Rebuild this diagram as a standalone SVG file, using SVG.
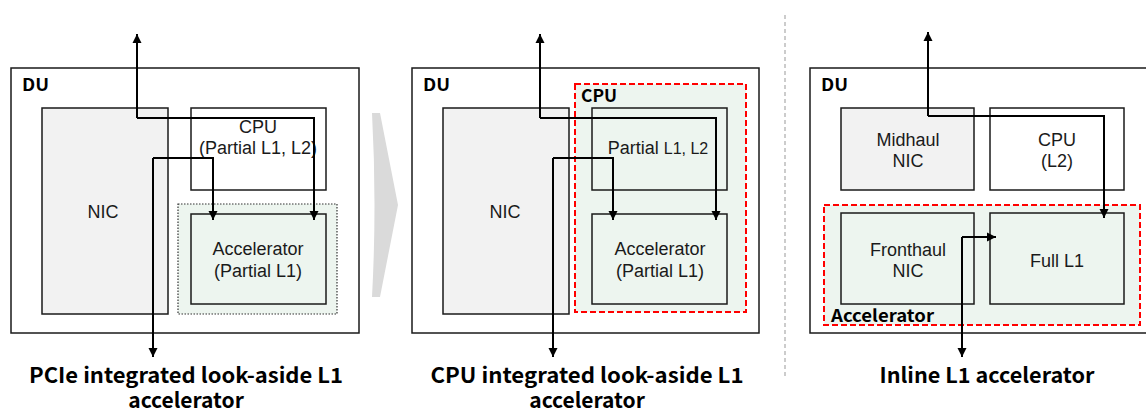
<svg xmlns="http://www.w3.org/2000/svg" width="1146" height="412" viewBox="0 0 1146 412">
<style>
.box{stroke:#1a1a1a;stroke-width:1.5}
.du{fill:#fff}
.nic{fill:#f2f2f2}
.wh{fill:#fff}
.gr{fill:#edf5ef}
.none{fill:none}
.dot{fill:#edf5ef;stroke:#333;stroke-width:1.2;stroke-dasharray:1.5 1.5}
.red{fill:#edf5ef;stroke:#ff0000;stroke-width:2;stroke-dasharray:6 3}
.lbl{font-family:"Liberation Sans",Arial,sans-serif;font-size:18px;fill:#1a1a1a;text-anchor:middle}
.bl{font-family:"Noto Sans CJK KR","Open Sans",sans-serif;font-weight:bold;font-size:17px;fill:#000}
.title{font-family:"Noto Sans CJK KR","Open Sans",sans-serif;font-weight:bold;font-size:21px;fill:#000;text-anchor:middle}
.conn{fill:none;stroke:#000;stroke-width:2;marker-end:url(#ah)}
</style>
<defs>
<marker id="ah" markerWidth="10" markerHeight="10" refX="9" refY="5" orient="auto" markerUnits="userSpaceOnUse">
<path d="M0,0.5 L9,5 L0,9.5 Z" fill="#000"/>
</marker>
</defs>

<!-- chevron -->
<path id="chevron" d="M372,113 L380,113 L398,205 L380,297 L372,297 Q377,205 372,113 Z" fill="#dadada"/>
<!-- separator -->
<line x1="785" y1="15" x2="785" y2="378" stroke="#999" stroke-width="1" stroke-dasharray="4 3"/>

<!-- Panel 1 -->
<g id="p1-du"><rect class="box du" x="11" y="68" width="348" height="265"/><text class="bl" x="22" y="91" textLength="27" lengthAdjust="spacingAndGlyphs">DU</text></g>
<g id="p1-nic"><rect class="box nic" x="42" y="108" width="126" height="206"/><text class="lbl" x="103" y="218">NIC</text></g>
<g id="p1-cpu"><rect class="box wh" x="191" y="108" width="135" height="82"/><text class="lbl" x="258" y="133">CPU</text><text class="lbl" x="258" y="154">(Partial L1, L2)</text></g>
<g id="p1-accwrap"><rect class="dot" x="178" y="204" width="159" height="110"/></g>
<g id="p1-acc"><rect class="box gr" x="191" y="214" width="135" height="90"/><text class="lbl" x="258" y="255">Accelerator</text><text class="lbl" x="258" y="277">(Partial L1)</text></g>
<g id="p1-title"><text class="title" x="186" y="383" textLength="314" lengthAdjust="spacingAndGlyphs">PCIe integrated look-aside L1</text><text class="title" x="186" y="408">accelerator</text></g>

<!-- Panel 2 -->
<g id="p2-du"><rect class="box du" x="412" y="68" width="347" height="265"/><text class="bl" x="423" y="91" textLength="27" lengthAdjust="spacingAndGlyphs">DU</text></g>
<g id="p2-nic"><rect class="box nic" x="443" y="108" width="126" height="206"/><text class="lbl" x="505" y="218">NIC</text></g>
<g id="p2-cpuwrap"><rect class="red" x="575" y="84" width="171" height="228"/><text class="bl" x="581" y="102" textLength="36" lengthAdjust="spacingAndGlyphs">CPU</text></g>
<g id="p2-cpu"><rect class="box none" x="592" y="108" width="135" height="82"/><text class="lbl" x="658" y="154">Partial <tspan font-size="16">L1, L2</tspan></text></g>
<g id="p2-acc"><rect class="box none" x="592" y="214" width="135" height="90"/><text class="lbl" x="660" y="255">Accelerator</text><text class="lbl" x="660" y="277">(Partial L1)</text></g>
<g id="p2-title"><text class="title" x="587" y="383" textLength="313" lengthAdjust="spacingAndGlyphs">CPU integrated look-aside L1</text><text class="title" x="587" y="408">accelerator</text></g>

<!-- Panel 3 -->
<g id="p3-du"><rect class="box du" x="810" y="68" width="345" height="265"/><text class="bl" x="821" y="91" textLength="27" lengthAdjust="spacingAndGlyphs">DU</text></g>
<g id="p3-mid"><rect class="box nic" x="841" y="108" width="133" height="82"/><text class="lbl" x="908" y="146">Midhaul</text><text class="lbl" x="908" y="167">NIC</text></g>
<g id="p3-cpu"><rect class="box wh" x="990" y="108" width="134" height="82"/><text class="lbl" x="1057" y="146">CPU</text><text class="lbl" x="1057" y="167">(L2)</text></g>
<g id="p3-accwrap"><rect class="red" x="824" y="205" width="316" height="120"/><text class="bl" x="831" y="322" textLength="103" lengthAdjust="spacingAndGlyphs">Accelerator</text></g>
<g id="p3-fh"><rect class="box gr" x="841" y="213" width="133" height="91"/><text class="lbl" x="908" y="256">Fronthaul</text><text class="lbl" x="908" y="277">NIC</text></g>
<g id="p3-l1"><rect class="box gr" x="990" y="213" width="134" height="91"/><text class="lbl" x="1057" y="267">Full L1</text></g>
<g id="p3-title"><text class="title" x="987" y="383" textLength="215" lengthAdjust="spacingAndGlyphs">Inline L1 accelerator</text></g>

<!-- connectors -->
<g id="connectors">
<path class="conn" d="M137,118 L137,34"/>
<path class="conn" d="M137,118 L314,118 L314,220"/>
<path class="conn" d="M153,158 L153,357"/>
<path class="conn" d="M153,158 L213,158 L213,220"/>

<path class="conn" d="M540,118 L540,34"/>
<path class="conn" d="M540,118 L716,118 L716,220"/>
<path class="conn" d="M553,158 L553,357"/>
<path class="conn" d="M553,158 L613,158 L613,220"/>

<path class="conn" d="M928,116 L928,32"/>
<path class="conn" d="M928,116 L1104,116 L1104,218"/>
<path class="conn" d="M962,237 L962,357"/>
<path class="conn" d="M962,237 L996,237"/>
</g>
</svg>
